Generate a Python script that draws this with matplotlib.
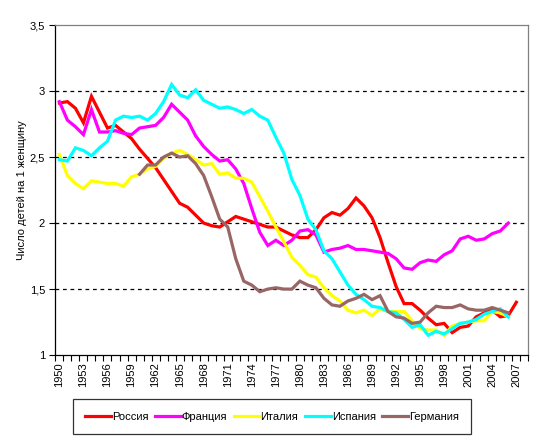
import numpy as np
import matplotlib
matplotlib.use("Agg")
import matplotlib.pyplot as plt
from matplotlib.ticker import FixedLocator, FuncFormatter

plt.rcParams["font.family"] = ["Liberation Sans", "DejaVu Sans"]

years = list(range(1950, 2009))

russia = [2.91, 2.92, 2.87, 2.76, 2.96, 2.84, 2.72, 2.74, 2.69, 2.64,
          2.56, 2.49, 2.42, 2.33, 2.24, 2.15, 2.12, 2.06, 2.00, 1.98,
          1.97, 2.01, 2.05, 2.03, 2.01, 1.99, 1.97, 1.97, 1.94, 1.91,
          1.89, 1.89, 1.95, 2.04, 2.08, 2.06, 2.11, 2.19, 2.13, 2.04,
          1.89, 1.70, 1.52, 1.39, 1.39, 1.34, 1.28, 1.23, 1.24, 1.17,
          1.21, 1.22, 1.29, 1.32, 1.34, 1.29, 1.30, 1.40]
france = [2.92, 2.78, 2.73, 2.67, 2.86, 2.69, 2.69, 2.70, 2.68, 2.67,
          2.72, 2.73, 2.74, 2.80, 2.90, 2.84, 2.78, 2.66, 2.58, 2.52,
          2.47, 2.48, 2.41, 2.30, 2.11, 1.93, 1.83, 1.87, 1.83, 1.87,
          1.94, 1.95, 1.91, 1.78, 1.80, 1.81, 1.83, 1.80, 1.80, 1.79,
          1.78, 1.77, 1.73, 1.66, 1.65, 1.70, 1.72, 1.71, 1.76, 1.79,
          1.88, 1.90, 1.87, 1.88, 1.92, 1.94, 2.00]
italy = [2.52, 2.36, 2.30, 2.26, 2.32, 2.31, 2.30, 2.30, 2.28, 2.35,
         2.37, 2.41, 2.43, 2.49, 2.53, 2.55, 2.52, 2.48, 2.44, 2.45,
         2.37, 2.38, 2.34, 2.34, 2.31, 2.20, 2.09, 1.97, 1.86, 1.74,
         1.68, 1.61, 1.59, 1.51, 1.45, 1.41, 1.34, 1.32, 1.34, 1.30,
         1.35, 1.33, 1.33, 1.33, 1.26, 1.20, 1.19, 1.19, 1.15, 1.22,
         1.24, 1.25, 1.26, 1.26, 1.33, 1.32, 1.29]
spain = [2.48, 2.47, 2.57, 2.55, 2.51, 2.57, 2.62, 2.78, 2.81, 2.80,
         2.81, 2.78, 2.83, 2.92, 3.05, 2.97, 2.95, 3.01, 2.93, 2.90,
         2.87, 2.88, 2.86, 2.83, 2.86, 2.81, 2.78, 2.65, 2.53, 2.33,
         2.21, 2.03, 1.95, 1.79, 1.73, 1.63, 1.53, 1.46, 1.42, 1.37,
         1.36, 1.33, 1.32, 1.27, 1.21, 1.23, 1.15, 1.18, 1.16, 1.20,
         1.24, 1.25, 1.27, 1.31, 1.33, 1.35, 1.29]
# Germany from 1960
germany = [2.37, 2.44, 2.44, 2.50, 2.53, 2.50, 2.51, 2.45, 2.36, 2.20,
           2.03, 1.97, 1.73, 1.56, 1.53, 1.48, 1.50, 1.51, 1.50, 1.50,
           1.56, 1.53, 1.51, 1.43, 1.38, 1.37, 1.41, 1.43, 1.46, 1.42,
           1.45, 1.33, 1.29, 1.28, 1.24, 1.25, 1.32, 1.37, 1.36, 1.36,
           1.38, 1.35, 1.34, 1.34, 1.36, 1.34, 1.32]

series = [
    ("Россия", russia, 1950, "#FF0000"),
    ("Франция", france, 1950, "#FF00FF"),
    ("Италия", italy, 1950, "#FFFF00"),
    ("Испания", spain, 1950, "#00FFFF"),
    ("Германия", germany, 1960, "#996666"),
]

fig = plt.figure(figsize=(5.43, 4.4), dpi=100)
ax = fig.add_axes([0.102, 0.193, 0.871, 0.750])

for name, vals, start, col in series:
    x = np.arange(len(vals)) + (start - 1950)
    ax.plot(x, vals, color=col, lw=2.3, label=name, solid_joinstyle="miter")

ax.set_xlim(-0.5, len(years) - 0.5)
ax.set_ylim(1, 3.5)
ax.set_yticks([1, 1.5, 2, 2.5, 3, 3.5])
ax.yaxis.set_major_formatter(FuncFormatter(lambda v, p: f"{v:g}".replace(".", ",")))
for g in [1.5, 2, 2.5, 3]:
    ax.axhline(g, color="black", lw=0.9, ls=(0, (3, 3)), zorder=0)

lab_idx = list(range(0, len(years), 3))
ax.xaxis.set_major_locator(FixedLocator(lab_idx))
ax.set_xticklabels([str(years[i]) for i in lab_idx], rotation=90)
ax.xaxis.set_minor_locator(FixedLocator(np.arange(-0.5, len(years), 1)))
ax.tick_params(axis="x", which="major", length=0, pad=5, labelsize=8)
ax.tick_params(axis="x", which="minor", length=4, width=0.8, direction="out")
ax.tick_params(axis="y", length=4, width=0.8, labelsize=8)

for s in ["top", "right"]:
    ax.spines[s].set_color("#808080")
    ax.spines[s].set_linewidth(0.9)
for s in ["left", "bottom"]:
    ax.spines[s].set_color("black")
    ax.spines[s].set_linewidth(0.9)

ax.set_ylabel("Число детей на 1 женщину", fontsize=8, labelpad=2)

leg = fig.legend(loc="center", bbox_to_anchor=(0.501, 0.053), ncol=5,
                 fontsize=8, frameon=True, fancybox=False, handlelength=2.3,
                 handletextpad=0.1, columnspacing=0.6, borderpad=1.1,
                 borderaxespad=0)
leg.get_frame().set_edgecolor("black")
leg.get_frame().set_linewidth(0.9)

fig.savefig("out.png", dpi=100)
